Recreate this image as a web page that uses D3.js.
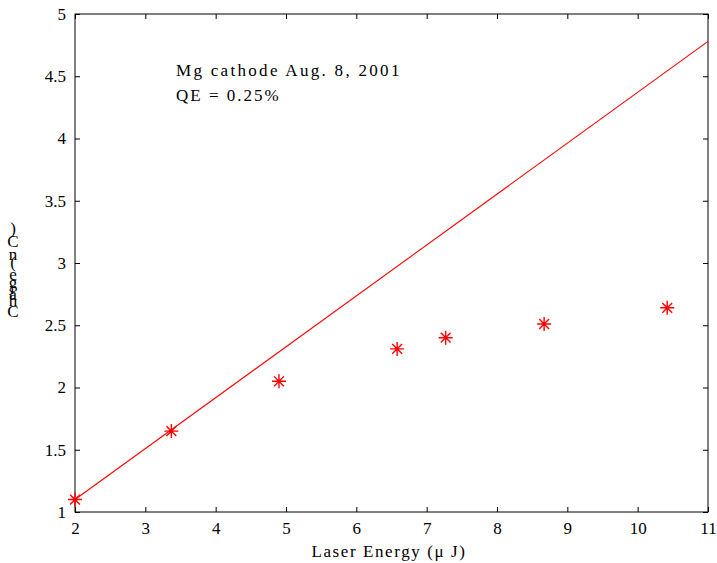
<!DOCTYPE html>
<html><head><meta charset="utf-8">
<script src="https://cdn.jsdelivr.net/npm/d3@7"></script>
<style>body{margin:0;background:#fff}svg{display:block}text{font-family:"Liberation Serif","Times New Roman",serif;fill:#000}</style>
</head><body><svg id="c" width="717" height="563"></svg>
<script>
const xTicks=[2,3,4,5,6,7,8,9,10,11];
const yTicks=[1,1.5,2,2.5,3,3.5,4,4.5,5];
const pointX=[2,3.37,4.9,6.58,7.27,8.67,10.42];
const pointY=[1.1,1.65,2.05,2.31,2.4,2.51,2.64];
const fitX=[2,11];
const fitY=[1.1,4.78];
const yLabelChars=["C","h","a","r","g","e","(","n","C",")"];

const svg=d3.select("#c");
const L=75,R=708,T=14,B=512;
const x=d3.scaleLinear().domain([2,11]).range([L,R]);
const y=d3.scaleLinear().domain([1,5]).range([B,T]);

const g=svg.append("g");
g.append("rect").attr("x",L).attr("y",T).attr("width",R-L).attr("height",B-T).attr("fill","none").attr("stroke","#000").attr("stroke-width",1);

const ax=d3.axisBottom(x).tickValues(xTicks).tickFormat(d3.format("d")).tickSizeInner(-5).tickSizeOuter(0).tickPadding(10);
g.append("g").attr("transform",`translate(0,${B})`).call(ax);
const axT=d3.axisTop(x).tickValues(xTicks).tickFormat("").tickSizeInner(-5).tickSizeOuter(0);
g.append("g").attr("transform",`translate(0,${T})`).call(axT);
const ay=d3.axisLeft(y).tickValues(yTicks).tickFormat(d=>String(d)).tickSizeInner(-5).tickSizeOuter(0).tickPadding(9);
g.append("g").attr("transform",`translate(${L},0)`).call(ay);
const ayR=d3.axisRight(y).tickValues(yTicks).tickFormat("").tickSizeInner(-5).tickSizeOuter(0);
g.append("g").attr("transform",`translate(${R},0)`).call(ayR);
svg.selectAll(".domain").remove();
svg.selectAll(".tick line").attr("stroke","#000");
svg.selectAll(".tick text").style("font-size","17px").style("font-family","Liberation Serif").attr("fill","#000");

// fit line
const line=d3.line().x((d,i)=>x(fitX[i])).y(d=>y(d));
g.append("path").datum(fitY).attr("d",line).attr("fill","none").attr("stroke","#ff0000").attr("stroke-width",1.1);

// asterisk markers
const s=7;
const star=`M${-s},0L${s},0M0,${-s}L0,${s}M${-s*0.7},${-s*0.7}L${s*0.7},${s*0.7}M${-s*0.7},${s*0.7}L${s*0.7},${-s*0.7}`;
g.selectAll(".pt").data(pointY).enter().append("path")
 .attr("d",star).attr("transform",(d,i)=>`translate(${x(pointX[i])},${y(d)})`)
 .attr("stroke","#ff0000").attr("stroke-width",1.4).attr("fill","none");

// annotation
svg.append("text").attr("x",176).attr("y",76).style("font-size","17px").attr("letter-spacing","2.3px").text("Mg cathode Aug. 8, 2001");
svg.append("text").attr("x",176).attr("y",101).style("font-size","17px").attr("letter-spacing","2px").text("QE = 0.25%");

// x label
svg.append("text").attr("x",389).attr("y",557).attr("text-anchor","middle").style("font-size","17px").attr("letter-spacing","1.6px").text("Laser Energy (\u03bc J)");

// y label, stacked characters (bottom to top)
const yPos=[311,300,294,288,282,274,262,254,241,228];
svg.selectAll(".yl").data(yLabelChars).enter().append("text")
 .attr("x",13).attr("y",(d,i)=>yPos[i]+6).attr("text-anchor","middle").style("font-size","17px").text(d=>d);
</script></body></html>
